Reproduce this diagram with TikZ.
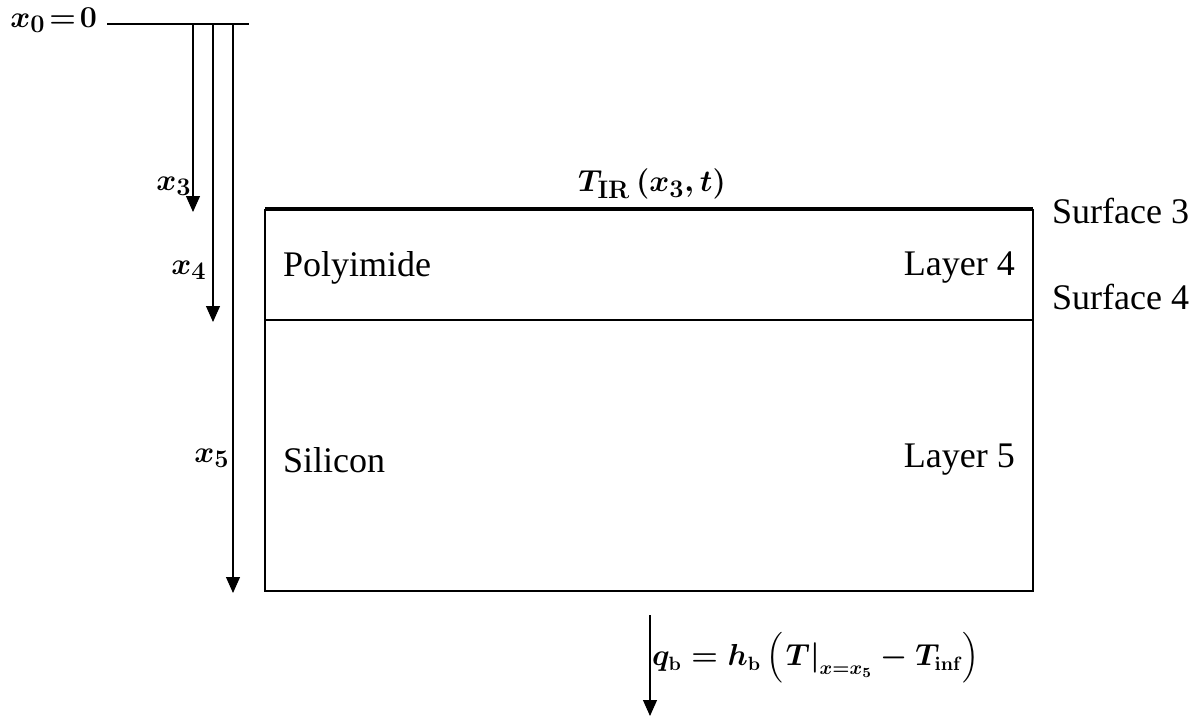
\documentclass[tikz,border=0pt]{standalone}
\usepackage{amsmath,amssymb}
\usepackage{fontspec}
\setmainfont{Liberation Serif}
\usetikzlibrary{arrows.meta,positioning,calc}

\begin{document}
\begin{tikzpicture}[
  x=0.02cm, y=-0.02cm,
  font=\fontsize{20.5}{24}\selectfont,
  lbl/.style={inner sep=1pt},
  mlbl/.style={inner sep=1pt, font=\fontsize{16}{19}\selectfont\boldmath},
  xlbl/.style={inner sep=1pt, font=\fontsize{19}{22}\selectfont\boldmath},
  ar/.style={-{Triangle[length=3.2mm, width=2.8mm]}, semithick}
]
\useasboundingbox (0,0) rectangle (1200,718);

% depth axis
\coordinate (top0) at (107,24);
\coordinate (top1) at (249,24);
\draw[semithick] (top0) -- (top1);
\node[xlbl, anchor=east] (x0) at (99,20) {$x_0\!=\!\mathbf{0}$};

\coordinate (a3) at (193,24);
\coordinate (a4) at (213,24);
\coordinate (a5) at (233,24);
\coordinate (e3) at (193,212);
\coordinate (e4) at (213,322);
\coordinate (e5) at (233,593);
\draw[ar] (a3) -- (e3);
\draw[ar] (a4) -- (e4);
\draw[ar] (a5) -- (e5);
\node[xlbl] (x3) at (174,186) {$x_3$};
\node[xlbl] (x4) at (189,270) {$x_4$};
\node[xlbl] (x5) at (212,458) {$x_5$};

% layers
\coordinate (tl) at (265,209);
\coordinate (tr) at (1033,209);
\coordinate (ml) at (265,320);
\coordinate (mr) at (1033,320);
\coordinate (bl) at (265,591);
\coordinate (br) at (1033,591);
\draw[semithick] (tl) -- (bl) -- (br) -- (tr);
\draw[line width=1.8pt] (tl) -- (tr);
\draw[semithick] (ml) -- (mr);

\node[xlbl] (tir) at (652,184) {$T_{\mathbf{IR}}\left(x_3,t\right)$};
\node[lbl, anchor=west] (s3) at (1050,211) {Surface 3};
\node[lbl, anchor=west] (s4) at (1050,297) {Surface 4};
\node[lbl, anchor=west] (poly) at (281,268) {Polyimide};
\node[lbl, anchor=east] (lay4) at (1017,268) {Layer 4};
\node[lbl, anchor=west] (si) at (281,460) {Silicon};
\node[lbl, anchor=east] (lay5) at (1017,460) {Layer 5};

% bottom heat flux
\coordinate (q0) at (650,615);
\coordinate (q1) at (650,716);
\draw[ar] (q0) -- (q1);
\node[mlbl, anchor=west] (qb) at (650,658)
  {$q_{\mathbf{b}}=h_{\mathbf{b}}\left(\left.T\right|_{x=x_5}-T_{\mathbf{inf}}\right)$};
\end{tikzpicture}
\end{document}
